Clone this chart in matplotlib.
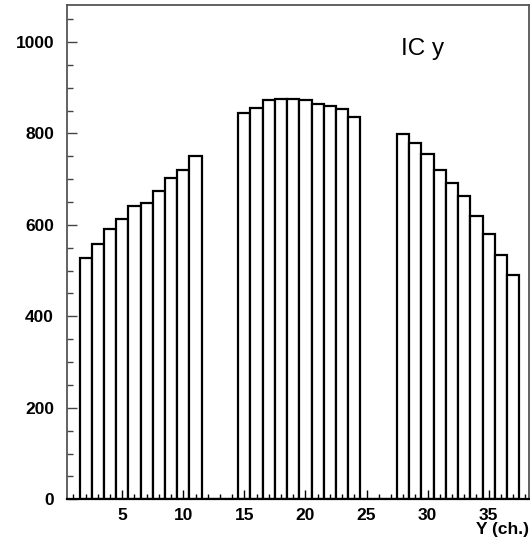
import numpy as np
import matplotlib
matplotlib.use("Agg")
import matplotlib.pyplot as plt
from matplotlib.ticker import MultipleLocator

# --- data: counts per channel (channels 2..37) ---
channels = list(range(2, 38))
counts = [528, 559, 590, 614, 642, 647, 675, 703, 719, 750,
          0, 0, 0,
          844, 856, 873, 876, 876, 873, 865, 859, 854, 836,
          0, 0, 0,
          798, 780, 756, 721, 691, 663, 620, 580, 535, 490]

x_label = "Y (ch.)"
title_text = "IC y"

plt.rcParams['font.family'] = ['Liberation Sans', 'DejaVu Sans']

fig = plt.figure(figsize=(5.30, 5.45), dpi=100)
ax = fig.add_axes([0.127, 0.084, 0.871, 0.906])

ax.bar(channels, counts, width=1.0, color='white', edgecolor='black',
       linewidth=1.6, align='center')

ax.set_xlim(0.5, 38.3)
ax.set_ylim(0, 1080)

ax.xaxis.set_major_locator(MultipleLocator(5))
ax.xaxis.set_minor_locator(MultipleLocator(1))
ax.yaxis.set_major_locator(MultipleLocator(200))
ax.yaxis.set_minor_locator(MultipleLocator(50))

ax.tick_params(axis='y', which='major', direction='in', length=7.4, width=1.0,
               color='#444444', pad=9.5, labelsize=12.5)
ax.tick_params(axis='y', which='minor', direction='in', length=4.5, width=1.0,
               color='#444444')
ax.tick_params(axis='x', which='major', direction='in', length=6.5, width=1.0,
               color='black', pad=6.5, labelsize=12.5)
ax.tick_params(axis='x', which='minor', direction='in', length=3.6, width=1.0,
               color='black')
ax.tick_params(top=False, right=False, which='both')

for lab in ax.get_xticklabels() + ax.get_yticklabels():
    lab.set_fontweight('bold')

for side in ['top', 'right', 'left']:
    ax.spines[side].set_color('#555555')
    ax.spines[side].set_linewidth(1.3)
ax.spines['bottom'].set_color('black')
ax.spines['bottom'].set_linewidth(1.6)

ax.set_xlabel(x_label, fontsize=12.5, fontweight='bold', loc='right')
ax.xaxis.label.set_va('top')
ax.xaxis.set_label_coords(1.0, -0.047)

fig.text(401 / 530, 1 - 55 / 545, title_text, fontsize=17.5,
         ha='left', va='baseline')

fig.savefig("out.png", dpi=100)
